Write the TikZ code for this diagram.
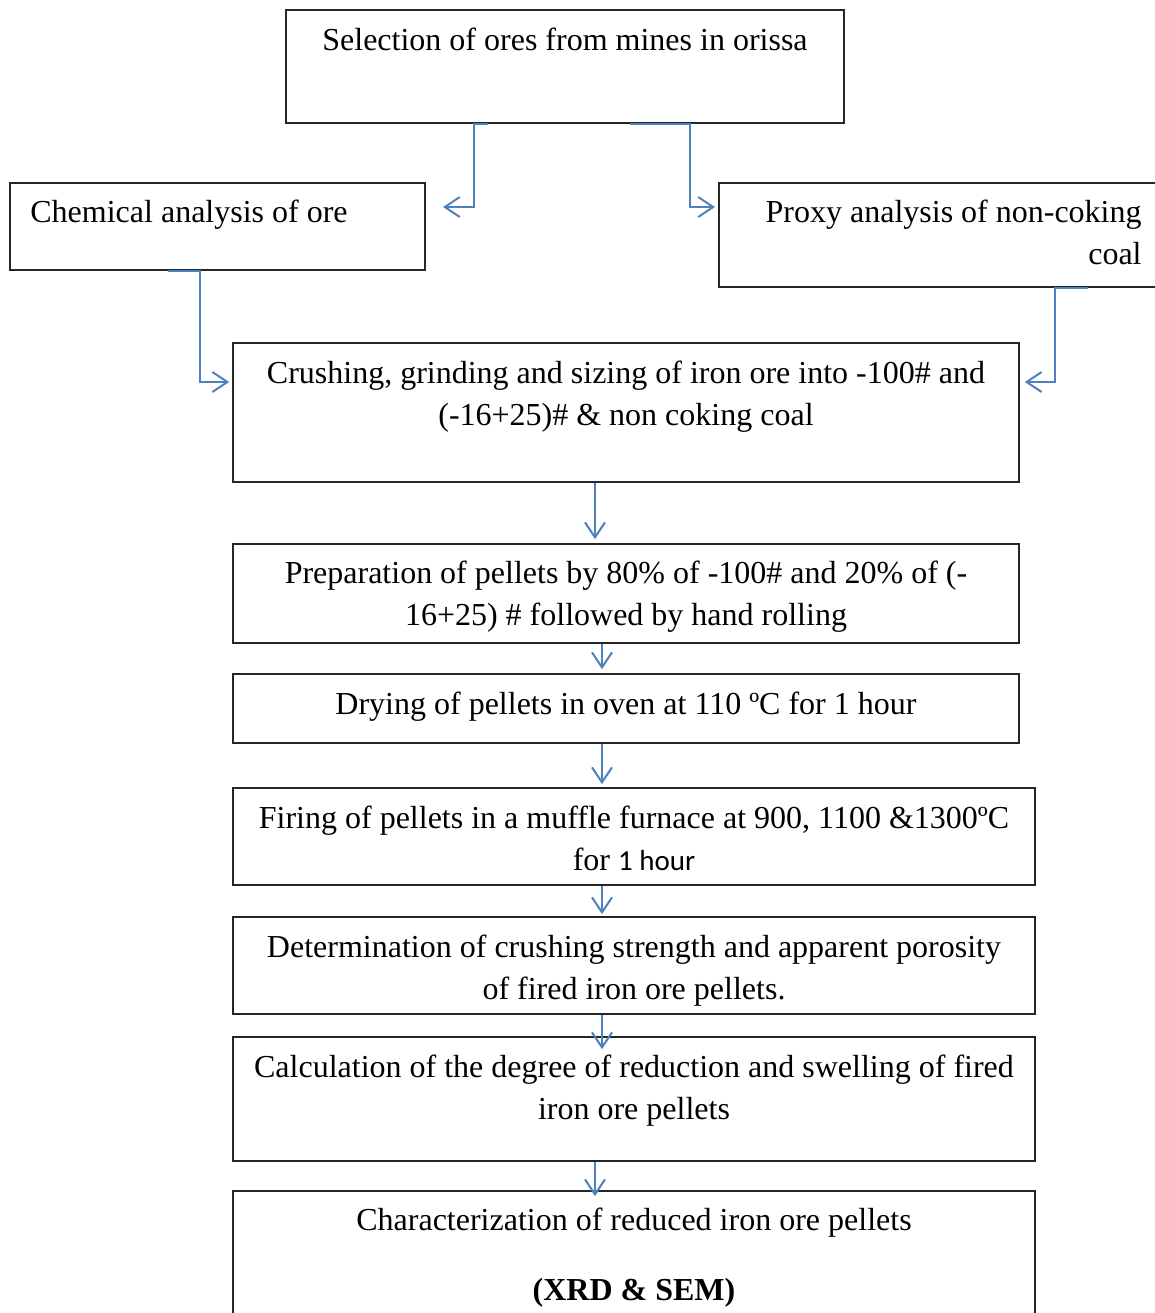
\documentclass[tikz,border=0pt]{standalone}
\usepackage{fontspec}
\setmainfont{Liberation Serif}
\newfontfamily\calib{Carlito}
\usetikzlibrary{arrows.meta,fit}
\definecolor{arrblue}{RGB}{79,129,189}
\begin{document}
\begin{tikzpicture}[x=0.5pt,y=-0.5pt,
  box/.style={draw=black!85, line width=0.8pt, inner sep=0pt},
  txt/.style={font=\fontsize{16}{21}\selectfont, inner sep=0pt, anchor=base},
  flow/.style={draw=arrblue, line width=1pt, -{Straight Barb[length=7.5pt,width=10pt]}}]
\useasboundingbox (0,0) rectangle (1155,1313);
% boxes
\node[box, fit={(286,10) (844,123)}] (sel) {};
\node[box, fit={(10,183) (425,270)}] (chem) {};
\node[box, fit={(719,183) (1170,287)}] (prox) {};
\node[box, fit={(233,343) (1019,482)}] (crush) {};
\node[box, fit={(233,544) (1019,643)}] (prep) {};
\node[box, fit={(233,674) (1019,743)}] (dry) {};
\node[box, fit={(233,788) (1035,885)}] (fire) {};
\node[box, fit={(233,917) (1035,1014)}] (det) {};
\node[box, fit={(233,1037) (1035,1161)}] (calc) {};
\node[box, fit={(233,1191) (1035,1330)}] (char) {};
% texts
\node[txt] (tsel) at (565,50) {Selection of ores from mines in orissa};
\node[txt, anchor=base west] (tchem) at (30,222) {Chemical analysis of ore};
\node[txt, anchor=base east, text width=210pt, align=flush right] (tprox) at (1142,222) {Proxy analysis of non-coking\\coal};
\node[txt, text width=390pt, align=flush center] (tcrush) at (626,383) {Crushing, grinding and sizing of iron ore into -100\# and\\(-16+25)\# \& non coking coal};
\node[txt, text width=390pt, align=flush center] (tprep) at (626,583) {Preparation of pellets by 80\% of -100\# and 20\% of (-\\16+25) \# followed by hand rolling};
\node[txt] (tdry) at (626,714) {Drying of pellets in oven at 110 ºC for 1 hour};
\node[txt, text width=398pt, align=flush center] (tfire) at (634,828) {Firing of pellets in a muffle furnace at 900, 1100 \&1300ºC\\for {\calib\fontsize{14.5}{21}\selectfont 1 hour}};
\node[txt, text width=398pt, align=flush center] (tdet) at (634,957) {Determination of crushing strength and apparent porosity\\of fired iron ore pellets.};
\node[txt, text width=398pt, align=flush center] (tcalc) at (634,1077) {Calculation of the degree of reduction and swelling of fired\\iron ore pellets};
\node[txt, text width=398pt, align=flush center] (tchar) at (634,1230) {Characterization of reduced iron ore pellets\\[14pt]\textbf{(XRD \& SEM)}};
% arrow tips
\coordinate (aL) at (443,207);
\coordinate (aR) at (715,207);
% connectors
\draw[flow] ([xshift=-38.5pt]sel.south) -- ++(-14,0) |- (aL);
\draw[flow] ([xshift=32.5pt]sel.south) -- ++(60,0) |- (aR);
\draw[flow] ([xshift=-24.75pt]chem.south) -- ++(32,0) |- ([shift={(-1.5pt,15.25pt)}]crush.west);
\draw[flow] ([xshift=71.5pt]prox.south) -- ++(-33,0) |- ([shift={(2.5pt,15.25pt)}]crush.east);
\draw[flow] ([xshift=-15.5pt]crush.south) -- ([shift={(-15.5pt,2pt)}]prep.north);
\draw[flow] ([xshift=-12pt]prep.south) -- ([shift={(-12pt,2pt)}]dry.north);
\draw[flow] ([xshift=-12pt]dry.south) -- ([shift={(-16pt,1.5pt)}]fire.north);
\draw[flow] ([xshift=-16pt]fire.south) -- ([shift={(-16pt,1pt)}]det.north);
\draw[flow] ([xshift=-16pt]det.south) -- ([shift={(-16pt,-6.5pt)}]calc.north);
\draw[flow] ([xshift=-19.5pt]calc.south) -- ([shift={(-19.5pt,-3pt)}]char.north);
\end{tikzpicture}
\end{document}
